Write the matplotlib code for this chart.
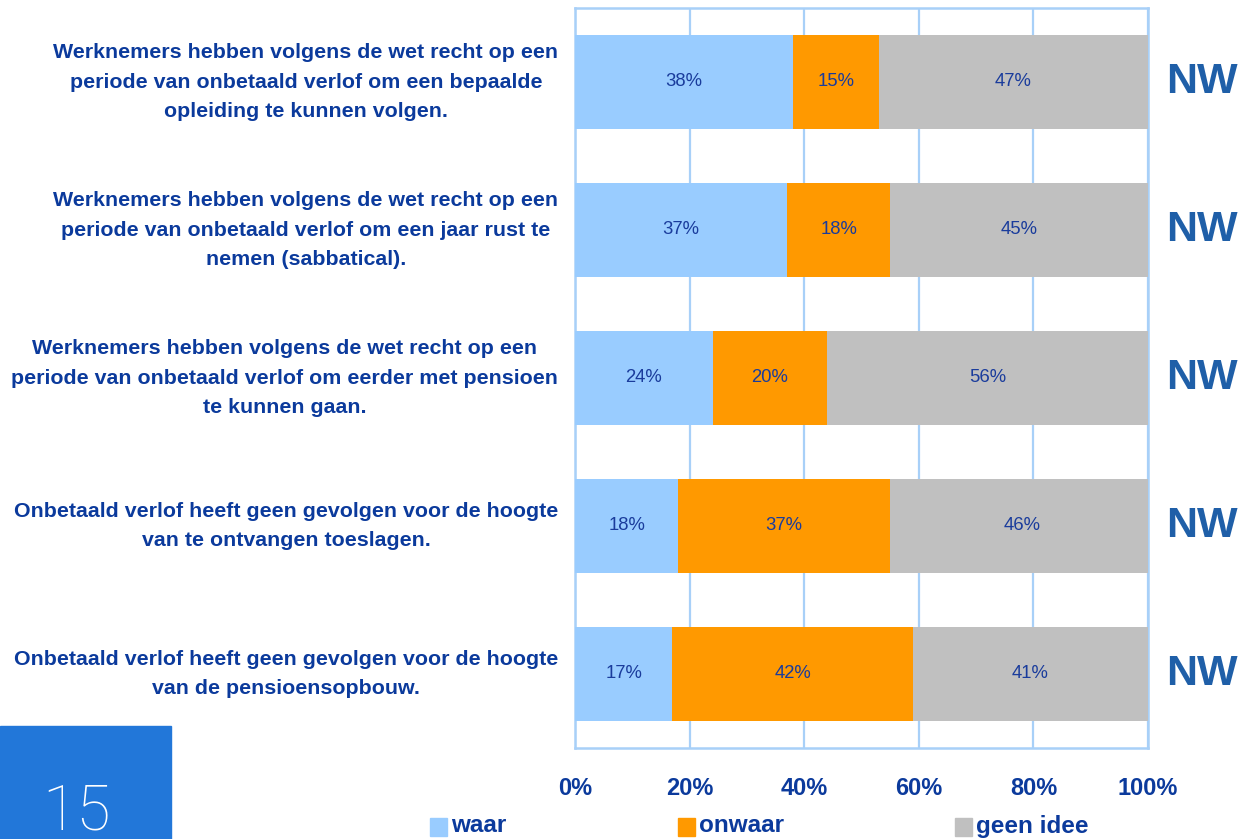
import matplotlib.pyplot as plt
from matplotlib.patches import Rectangle

plt.rcParams['font.family'] = ['Liberation Sans', 'DejaVu Sans']

# data
statements = [
    "Werknemers hebben volgens de wet recht op een\nperiode van onbetaald verlof om een bepaalde\nopleiding te kunnen volgen.",
    "Werknemers hebben volgens de wet recht op een\nperiode van onbetaald verlof om een jaar rust te\nnemen (sabbatical).",
    "Werknemers hebben volgens de wet recht op een\nperiode van onbetaald verlof om eerder met pensioen\nte kunnen gaan.",
    "Onbetaald verlof heeft geen gevolgen voor de hoogte\nvan te ontvangen toeslagen.",
    "Onbetaald verlof heeft geen gevolgen voor de hoogte\nvan de pensioensopbouw.",
]
waar = [38, 37, 24, 18, 17]
onwaar = [15, 18, 20, 37, 42]
geen_idee = [47, 45, 56, 46, 41]
series_names = ['waar', 'onwaar', 'geen idee']
colors = ['#99ccff', '#ff9900', '#c0c0c0']
xticks = [0, 20, 40, 60, 80, 100]
side_label = 'NW'
page_no = '15'

dark = '#0b3a9c'
grid_col = '#a8d0f8'

fig = plt.figure(figsize=(12.4, 8.39), dpi=100)
ax = fig.add_axes([575 / 1240, 1 - 748 / 839, 573 / 1240, 740 / 839])

ypos = list(range(len(statements)))
left = [0] * len(statements)
for vals, col in zip([waar, onwaar, geen_idee], colors):
    ax.barh(ypos, vals, left=left, height=0.63, color=col, zorder=3)
    for y, l, v in zip(ypos, left, vals):
        ax.text(l + v / 2, y, f'{v}%', ha='center', va='center',
                fontsize=13.3, color='#1a3c9c', zorder=4)
    left = [a + b for a, b in zip(left, vals)]

ax.set_xlim(0, 100)
ax.set_ylim(len(statements) - 0.5, -0.5)
ax.set_xticks(xticks)
ax.set_xticklabels([f'{t}%' for t in xticks], fontsize=17,
                   fontweight='bold', color=dark)
ax.tick_params(axis='x', length=0, pad=21)
ax.set_yticks([])
ax.grid(axis='x', color=grid_col, linewidth=1.6, zorder=0)
for s in ax.spines.values():
    s.set_color(grid_col)
    s.set_linewidth(1.8)

# statement labels and NW markers
for y, txt in zip(ypos, statements):
    ax.annotate(txt, xy=(0, y), xytext=(-12, 0), textcoords='offset points',
                ha='right', va='center', multialignment='center',
                fontsize=15.4, fontweight='bold', color=dark,
                linespacing=1.7, annotation_clip=False)
    ax.annotate(side_label, xy=(100, y), xytext=(13, 0),
                textcoords='offset points', ha='left', va='center',
                fontsize=31, fontweight='bold', color='#1f5fa8',
                annotation_clip=False)

# legend
leg_x = [430, 678, 955]
for x, name, col in zip(leg_x, series_names, colors):
    fig.patches.append(Rectangle((x / 1240, 1 - 836 / 839), 17 / 1240, 18 / 839,
                                 transform=fig.transFigure, color=col))
    fig.text((x + 21) / 1240, 1 - 826 / 839, name, ha='left', va='center',
             fontsize=17.5, fontweight='bold', color=dark)

# page number box
fig.patches.append(Rectangle((0, 0), 171 / 1240, 113 / 839,
                             transform=fig.transFigure, color='#2277d9'))
fig.text(77 / 1240, 1 - 812 / 839, page_no, ha='center', va='center',
         fontsize=45, color='white', family='Roboto', fontweight='light')

fig.savefig('out.png', dpi=100)
